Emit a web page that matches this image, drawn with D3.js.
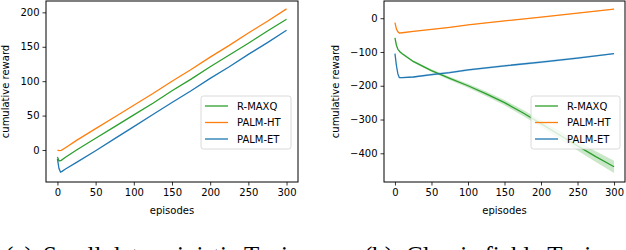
<!DOCTYPE html>
<html>
<head>
  <meta charset='utf-8'>
  <title>Cumulative reward vs episodes</title>
  <style>
    body { margin: 0; background: #fff; }
    svg text { font-family: "DejaVu Sans", sans-serif; }
  </style>
</head>
<body>
<div id="chart"></div>
<script src="https://d3js.org/d3.v7.min.js"></script>
<script>
  const GREEN = "#2ca02c", ORANGE = "#ff7f0e", BLUE = "#1f77b4";
  const SERIES_NAMES = ["R-MAXQ", "PALM-HT", "PALM-ET"];
  const SERIES_COLORS = [GREEN, ORANGE, BLUE];

  // (a) small deterministic taxi: [episode, reward]
  const leftRmaxq = [[0, -10], [2, -16], [5, -15], [10, -11], [25, 0], [50, 17], [75, 34], [100, 51], [125, 68], [150, 86], [175, 103], [200, 121], [225, 138], [250, 155], [275, 173], [300, 190]];
  const leftPalmHT = [[0, 0], [2, -1], [5, -0.5], [10, 3], [25, 14], [50, 31], [75, 48], [100, 65], [125, 82], [150, 100], [175, 117], [200, 135], [225, 152], [250, 170], [275, 187], [300, 205]];
  const leftPalmET = [[0, -13], [2, -27], [4, -32], [6, -31], [10, -28], [25, -18], [50, -1], [75, 16.5], [100, 34], [125, 51.5], [150, 69], [175, 86], [200, 104], [225, 121], [250, 139], [275, 156], [300, 174]];

  // (b) classic fickle taxi: [episode, mean, spread]
  const rightRmaxq = [[0, -58, 2], [2, -80, 2], [4, -92, 2], [7, -100, 2], [10, -105, 3], [25, -128, 3], [50, -155, 4], [75, -178, 5], [100, -200, 6], [125, -224, 7], [150, -250, 8], [175, -280, 9], [200, -312, 10], [225, -345, 12], [250, -378, 14], [275, -410, 16], [300, -440, 18]];
  const rightPalmHT = [[0, -13, 1], [2, -32, 1], [4, -40, 1], [6, -44, 1], [10, -43, 1], [25, -39, 1], [50, -33, 1], [75, -27, 1], [100, -20, 1], [150, -8, 1], [200, 3, 1], [250, 15, 1], [300, 27, 1]];
  const rightPalmET = [[0, -105, 1], [2, -140, 1], [4, -165, 1], [6, -176, 1], [10, -176, 2], [25, -174, 2], [50, -167, 3], [75, -161, 3], [100, -153, 3], [150, -141, 3], [200, -130, 3], [250, -118, 3], [300, -105, 2]];

  const xTicks = [0, 50, 100, 150, 200, 250, 300];
  const leftYTicks = [0, 50, 100, 150, 200];
  const rightYTicks = [0, -100, -200, -300, -400];

  var svg = d3.select("#chart").append("svg")
    .attr("width", 626).attr("height", 250);

  function drawPanel(p) {
    var x = d3.scaleLinear().domain([-15, 315]).range([p.left, p.right]);
    var y = d3.scaleLinear().domain(p.yDomain).range([p.bottom, p.top]);
    var g = svg.append("g");

    // bands
    p.series.forEach(function (s, i) {
      if (s[0].length < 3) return;
      g.append("path").datum(s)
        .attr("d", d3.area()
          .x(function (d) { return x(d[0]); })
          .y0(function (d) { return y(d[1] - d[2]); })
          .y1(function (d) { return y(d[1] + d[2]); }))
        .attr("fill", SERIES_COLORS[i]).attr("fill-opacity", 0.25);
    });
    // lines
    p.series.forEach(function (s, i) {
      g.append("path").datum(s)
        .attr("d", d3.line()
          .x(function (d) { return x(d[0]); })
          .y(function (d) { return y(d[1]); }))
        .attr("fill", "none")
        .attr("stroke", SERIES_COLORS[i])
        .attr("stroke-width", 1.3);
    });

    // axes
    var xa = g.append("g").attr("transform", "translate(0," + p.bottom + ")")
      .call(d3.axisBottom(x).tickValues(xTicks).tickSize(3.5).tickPadding(3));
    var ya = g.append("g").attr("transform", "translate(" + p.left + ",0)")
      .call(d3.axisLeft(y).tickValues(p.yTicks).tickSize(3.5).tickPadding(3)
        .tickFormat(function (d) { return d < 0 ? "\u2212" + (-d) : d; }));
    [xa, ya].forEach(function (a) {
      a.select(".domain").remove();
      a.selectAll("text").attr("font-size", 10).attr("fill", "#000")
        .style("font-family", "DejaVu Sans");
      a.selectAll("line").attr("stroke", "#000").attr("stroke-width", 0.8);
    });

    g.append("rect")
      .attr("x", p.left).attr("y", p.top)
      .attr("width", p.right - p.left).attr("height", p.bottom - p.top)
      .attr("fill", "none").attr("stroke", "#000").attr("stroke-width", 1);

    g.append("text").text("episodes")
      .attr("x", (p.left + p.right) / 2).attr("y", p.bottom + 32)
      .attr("text-anchor", "middle").attr("font-size", 10);
    g.append("text").text("cumulative reward")
      .attr("transform", "translate(" + p.yLabelX + "," + ((p.top + p.bottom) / 2) + ") rotate(-90)")
      .attr("text-anchor", "middle").attr("font-size", 10);

    // legend
    var L = p.legend;
    g.append("rect")
      .attr("x", L.x).attr("y", L.y).attr("width", L.w).attr("height", L.h)
      .attr("rx", 2.5).attr("fill", "#fff").attr("fill-opacity", 0.8)
      .attr("stroke", "#d0d0d0").attr("stroke-width", 0.8);
    SERIES_NAMES.forEach(function (name, i) {
      var ry = L.y + 10 + i * 16.5;
      g.append("line")
        .attr("x1", L.x + 4).attr("x2", L.x + 27)
        .attr("y1", ry).attr("y2", ry)
        .attr("stroke", SERIES_COLORS[i]).attr("stroke-width", 1.3);
      g.append("text").text(name)
        .attr("x", L.x + 36).attr("y", ry + 3.5)
        .attr("font-size", 10);
    });

    // sub-figure caption (cut by the bottom edge as in the source)
    var cap = svg.append("text")
      .attr("y", 264).attr("font-size", 25)
      .style("font-family", "Liberation Serif, Times New Roman, serif");
    cap.append("tspan").attr("x", p.captionX[0]).text(p.caption[0]);
    cap.append("tspan").attr("x", p.captionX[1]).text(p.caption[1]);
  }

  drawPanel({
    left: 46, right: 298, top: 1, bottom: 182,
    yDomain: [-46.5, 216.5], yTicks: leftYTicks, yLabelX: 9,
    series: [leftRmaxq, leftPalmHT, leftPalmET],
    legend: { x: 201, y: 96, w: 90, h: 53 },
    caption: ["(a)", "Small deterministic Taxi"], captionX: [5, 43]
  });

  drawPanel({
    left: 384, right: 625, top: 1, bottom: 182,
    yDomain: [-485, 51], yTicks: rightYTicks, yLabelX: 339,
    series: [rightRmaxq, rightPalmHT, rightPalmET],
    legend: { x: 531, y: 96, w: 89, h: 53 },
    caption: ["(b)", "Classic fickle Taxi"], captionX: [364, 406]
  });
</script>
</body>
</html>
